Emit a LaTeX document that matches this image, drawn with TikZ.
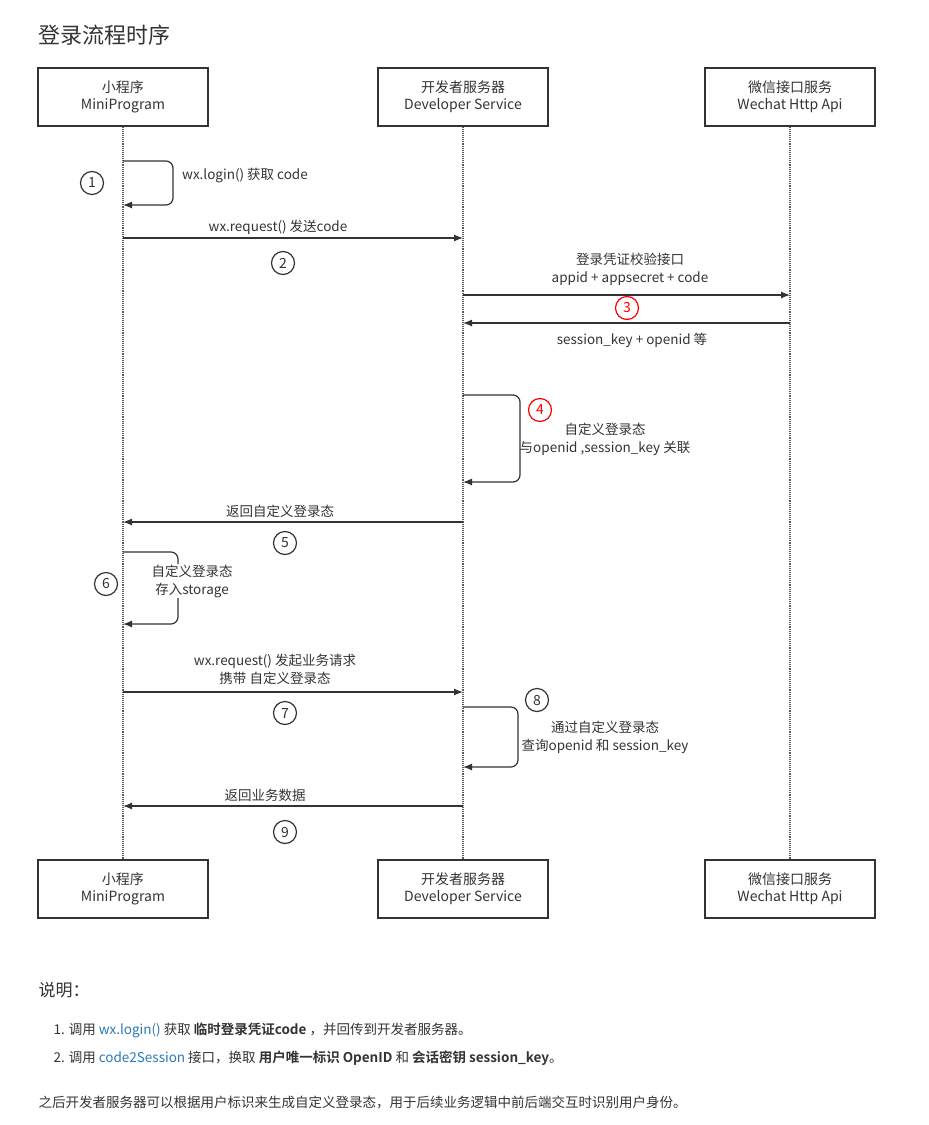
\documentclass[tikz,border=0pt]{standalone}
\usepackage{fontspec}
\setmainfont{Noto Sans CJK SC}[BoldFont={Noto Sans CJK SC Bold}]
\usetikzlibrary{calc, positioning, arrows.meta}
\definecolor{linkblue}{HTML}{2A7AB8}
\definecolor{txtgray}{HTML}{333333}

\tikzset{
  actor/.style={draw, line width=1.2pt, minimum width=170pt, minimum height=58pt, align=center,
    font=\fontsize{14}{17}\selectfont, inner sep=0pt},
  life/.style={densely dotted, line width=1.1pt, gray!70!black},
  msg/.style={line width=1.2pt, -{Latex[length=9pt,width=7pt]}},
  lbl/.style={font=\fontsize{13.5}{18}\selectfont, align=center},
  stepno/.style={draw, line width=1.2pt, circle, minimum size=23pt, inner sep=0pt, font=\fontsize{14}{14}\selectfont},
  redstep/.style={stepno, draw=red, text=red}
}

\begin{document}
\begin{tikzpicture}[x=1pt, y=-1pt, color=txtgray]
\useasboundingbox (0,0) rectangle (929,1125);

\node[anchor=west, font=\fontsize{22}{25}\selectfont] (title) at (35,35) {登录流程时序};

% actors
\node[actor] (mtop) at (123,97) {小程序\\MiniProgram};
\node[actor] (dtop) at (463,97) {开发者服务器\\Developer Service};
\node[actor] (wtop) at (790,97) {微信接口服务\\Wechat Http Api};
\node[actor] (mbot) at (123,889) {小程序\\MiniProgram};
\node[actor] (dbot) at (463,889) {开发者服务器\\Developer Service};
\node[actor] (wbot) at (790,889) {微信接口服务\\Wechat Http Api};

\draw[life] (mtop) -- (mbot);
\draw[life] (dtop) -- (dbot);
\draw[life] (wtop) -- (wbot);

% coordinates on lifelines
\coordinate (m1a) at (123,161); \coordinate (m1b) at (123,205);
\coordinate (m2) at (123,238);  \coordinate (d2) at (463,238);
\coordinate (d3) at (463,295);  \coordinate (w3) at (790,295);
\coordinate (w3r) at (790,323); \coordinate (d3r) at (463,323);
\coordinate (d4a) at (463,395); \coordinate (d4b) at (463,482);
\coordinate (d5) at (463,522);  \coordinate (m5) at (123,522);
\coordinate (m6a) at (123,552); \coordinate (m6b) at (123,624);
\coordinate (m7) at (123,692);  \coordinate (d7) at (463,692);
\coordinate (d8a) at (463,707); \coordinate (d8b) at (463,767);
\coordinate (d9) at (463,806);  \coordinate (m9) at (123,806);

% 1
\draw[msg, rounded corners=7pt] (m1a) -- ++(50,0) -- ++(0,44) -- (m1b);
\node[lbl] at (245,176) {wx.login() 获取 code};
\node[stepno] at (92,183) {1};
% 2
\draw[msg] (m2) -- (d2);
\node[lbl] at (278,227) {wx.request() 发送code};
\node[stepno] at (283,263) {2};
% 3
\draw[msg] (d3) -- (w3);
\node[lbl] at (630,269) {登录凭证校验接口\\appid + appsecret + code};
\node[redstep] at (627,308) {3};
\draw[msg] (w3r) -- (d3r);
\node[lbl] at (632,340) {session\_key + openid 等};
% 4
\draw[msg, rounded corners=7pt] (d4a) -- ++(57,0) -- ++(0,87) -- (d4b);
\node[redstep] at (540,410) {4};
\node[lbl] at (605,439) {自定义登录态\\与openid ,session\_key 关联};
% 5
\draw[msg] (d5) -- (m5);
\node[lbl] at (280,511) {返回自定义登录态};
\node[stepno] at (285,543) {5};
% 6
\draw[msg, rounded corners=7pt] (m6a) -- ++(55,0) -- ++(0,72) -- (m6b);
\node[stepno] at (106,584) {6};
\node[lbl, fill=white, inner sep=1pt] at (192,581) {自定义登录态\\存入storage};
% 7
\draw[msg] (m7) -- (d7);
\node[lbl] at (275,669) {wx.request() 发起业务请求\\携带 自定义登录态};
\node[stepno] at (285,713) {7};
% 8
\draw[msg, rounded corners=7pt] (d8a) -- ++(55,0) -- ++(0,60) -- (d8b);
\node[stepno] at (537,700) {8};
\node[lbl, fill=white, inner sep=1pt] at (605,737) {通过自定义登录态\\查询openid 和 session\_key};
% 9
\draw[msg] (d9) -- (m9);
\node[lbl] at (265,795) {返回业务数据};
\node[stepno] at (285,832) {9};

% notes
\node[anchor=west, font=\fontsize{17}{19}\selectfont] (note) at (35,990) {说明：};
\node[anchor=west, font=\fontsize{13.5}{16}\selectfont] (item1) at (50,1030)
  {1. 调用 {\color{linkblue}wx.login()} 获取 \textbf{临时登录凭证code} ，并回传到开发者服务器。};
\node[anchor=west, font=\fontsize{13.5}{16}\selectfont] (item2) at (50,1058)
  {2. 调用 {\color{linkblue}code2Session} 接口，换取 \textbf{用户唯一标识 OpenID} 和 \textbf{会话密钥 session\_key}。};
\node[anchor=west, font=\fontsize{13.5}{16}\selectfont] (tail) at (35,1102)
  {之后开发者服务器可以根据用户标识来生成自定义登录态，用于后续业务逻辑中前后端交互时识别用户身份。};
\end{tikzpicture}
\end{document}
